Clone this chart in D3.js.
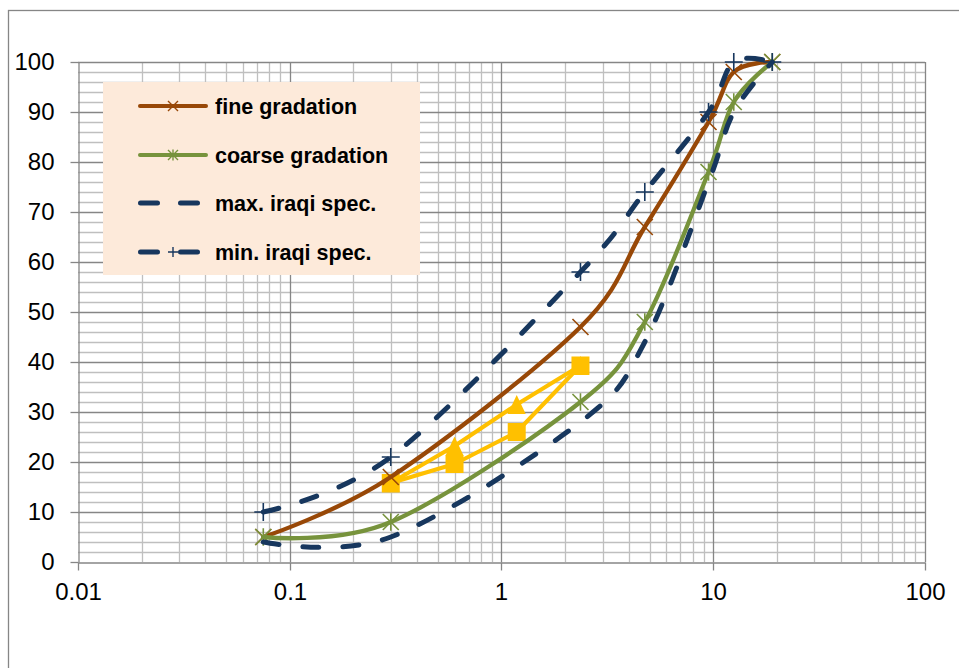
<!DOCTYPE html>
<html><head><meta charset="utf-8">
<script src="https://cdn.jsdelivr.net/npm/d3@7"></script>
<style>html,body{margin:0;padding:0;background:#fff;}svg{display:block;}</style>
</head><body>
<svg id="chart" width="959" height="668"></svg>
<script>
// ---- data ----
const sieves = [0.075, 0.3, 2.36, 4.75, 9.5, 12.5, 19];
const fineGradation   = [5, 17, 47, 67, 88, 98, 100];
const coarseGradation = [5, 8, 32, 48, 78, 92, 100];
const maxIraqiSpec    = [4, 5, 28, 44, 76, 90, 100];
const minIraqiSpec    = [10, 21, 58, 74, 90, 100, 100];
const mixSieves = [0.3, 0.6, 1.18, 2.36];
const mixSquares   = [15.8, 19.6, 26, 39.3];
const mixTriangles = [15.8, 23.2, 31.5, 39.3];
const xTicks = [0.01, 0.1, 1, 10, 100];
const xTickLabels = ["0.01", "0.1", "1", "10", "100"];
const yTicks = [0, 10, 20, 30, 40, 50, 60, 70, 80, 90, 100];
const legendLabels = ["fine gradation", "coarse gradation", "max. iraqi spec.", "min. iraqi spec."];

// ---- styles ----
const C = { fine: "#984807", coarse: "#77933C", spec: "#17375E", mix: "#FFC000",
  gridMajor: "#868686", gridMinor: "#BFBFBF", legendFill: "#FDEADA" };
const FONT = "'Liberation Sans', Arial, sans-serif";

const svg = d3.select("#chart");
svg.append("rect").attr("width", 959).attr("height", 668).attr("fill", "#fff");
svg.append("rect").attr("x", 8.5).attr("y", 10.5).attr("width", 1000).attr("height", 700)
  .attr("fill", "none").attr("stroke", C.gridMajor).attr("stroke-width", 1.3);

const x = d3.scaleLog().domain([0.01, 100]).range([78, 925]);
const y = d3.scaleLinear().domain([0, 100]).range([562, 62]);
const px = v => Math.round(v) + 0.5;

// grid
const g = svg.append("g");
const minorX = [], majorX = [];
[0.01, 0.1, 1, 10].forEach(d => { for (let k = 2; k <= 9; k++) minorX.push(d * k); majorX.push(d * 10); });
const minorY = d3.range(0, 101, 2).filter(v => v % 10 !== 0);
const majorY = yTicks.filter(v => v > 0);
g.selectAll(".vmin").data(minorX).join("line")
  .attr("x1", d => px(x(d))).attr("x2", d => px(x(d))).attr("y1", y(100)).attr("y2", y(0))
  .attr("stroke", C.gridMinor).attr("stroke-width", 1.3);
g.selectAll(".hmin").data(minorY).join("line")
  .attr("y1", d => px(y(d))).attr("y2", d => px(y(d))).attr("x1", x(0.01)).attr("x2", x(100))
  .attr("stroke", C.gridMinor).attr("stroke-width", 1.3);
g.selectAll(".vmaj").data(majorX).join("line")
  .attr("x1", d => px(x(d))).attr("x2", d => px(x(d))).attr("y1", y(100)).attr("y2", y(0))
  .attr("stroke", C.gridMajor).attr("stroke-width", 1.3);
g.selectAll(".hmaj").data(majorY).join("line")
  .attr("y1", d => px(y(d))).attr("y2", d => px(y(d))).attr("x1", x(0.01)).attr("x2", x(100))
  .attr("stroke", C.gridMajor).attr("stroke-width", 1.3);

// axes
const yAxis = d3.axisLeft(y).tickValues(yTicks).tickSize(8).tickSizeOuter(0).tickPadding(16).tickFormat(d3.format("d"));
const xAxis = d3.axisBottom(x).tickValues(xTicks).tickSize(8).tickSizeOuter(0).tickPadding(12)
  .tickFormat((d, i) => xTickLabels[i]);
const ya = svg.append("g").attr("transform", `translate(${px(x(0.01))},0)`).call(yAxis);
const xa = svg.append("g").attr("transform", `translate(0,${px(y(0))})`).call(xAxis);
[ya, xa].forEach(a => {
  a.select(".domain").attr("stroke", C.gridMajor).attr("stroke-width", 1.3);
  a.selectAll(".tick line").attr("stroke", C.gridMajor).attr("stroke-width", 1.3);
  a.selectAll(".tick text").attr("font-family", FONT).attr("font-size", 24).attr("fill", "#000");
});
ya.selectAll(".tick").attr("transform", d => `translate(0,${px(y(d))})`);
xa.selectAll(".tick").attr("transform", d => `translate(${px(x(d))},0)`);

// markers
function markX(sel, cx, cy, r, color, w) {
  sel.append("path").attr("d", `M${cx-r},${cy-r}L${cx+r},${cy+r}M${cx-r},${cy+r}L${cx+r},${cy-r}`)
    .attr("stroke", color).attr("stroke-width", w).attr("fill", "none");
}
function markStar(sel, cx, cy, r, color, w) {
  sel.append("path").attr("d", `M${cx-r},${cy-r}L${cx+r},${cy+r}M${cx-r},${cy+r}L${cx+r},${cy-r}M${cx},${cy-r*1.1}L${cx},${cy+r*1.1}`)
    .attr("stroke", color).attr("stroke-width", w).attr("fill", "none");
}
function markPlus(sel, cx, cy, r, color, w) {
  sel.append("path").attr("d", `M${cx-r},${cy}L${cx+r},${cy}M${cx},${cy-r}L${cx},${cy+r}`)
    .attr("stroke", color).attr("stroke-width", w).attr("fill", "none");
}

const plot = svg.append("g");
const straight = d3.line().x(d => x(d[0])).y(d => y(d[1]));
const smooth = d3.line().x(d => x(d[0])).y(d => y(d[1])).curve(d3.curveCardinal.tension(0));

// yellow series (drawn first)
const sq = mixSieves.map((s, i) => [s, mixSquares[i]]);
const tr = mixSieves.map((s, i) => [s, mixTriangles[i]]);
plot.append("path").attr("d", straight(tr)).attr("fill", "none").attr("stroke", C.mix).attr("stroke-width", 4).attr("stroke-linejoin", "round");
plot.append("path").attr("d", straight(sq)).attr("fill", "none").attr("stroke", C.mix).attr("stroke-width", 4).attr("stroke-linejoin", "round");
tr.forEach(d => {
  const cx = x(d[0]), cy = y(d[1]), h = 9.5, w = 9;
  plot.append("path").attr("d", `M${cx},${cy-h}L${cx+w},${cy+h}L${cx-w},${cy+h}Z`).attr("fill", C.mix);
});
sq.forEach(d => {
  plot.append("rect").attr("x", x(d[0]) - 9).attr("y", y(d[1]) - 9).attr("width", 18).attr("height", 18).attr("fill", C.mix);
});

// main series
const fine = sieves.map((s, i) => [s, fineGradation[i]]);
const coarse = sieves.map((s, i) => [s, coarseGradation[i]]);
const smax = sieves.map((s, i) => [s, maxIraqiSpec[i]]);
const smin = sieves.map((s, i) => [s, minIraqiSpec[i]]);

plot.append("path").attr("d", smooth(fine)).attr("fill", "none").attr("stroke", C.fine).attr("stroke-width", 4.3).attr("stroke-linecap", "round");
fine.forEach(d => markX(plot, x(d[0]), y(d[1]), 8, C.fine, 1.6));
plot.append("path").attr("d", smooth(coarse)).attr("fill", "none").attr("stroke", C.coarse).attr("stroke-width", 4.3).attr("stroke-linecap", "round");
coarse.forEach(d => markStar(plot, x(d[0]), y(d[1]), 8, C.coarse, 1.6));
plot.append("path").attr("d", smooth(smax)).attr("fill", "none").attr("stroke", C.spec).attr("stroke-width", 5)
  .attr("stroke-linecap", "round").attr("stroke-dasharray", "16 24");
plot.append("path").attr("d", smooth(smin)).attr("fill", "none").attr("stroke", C.spec).attr("stroke-width", 5)
  .attr("stroke-linecap", "round").attr("stroke-dasharray", "16 24");
smin.forEach(d => markPlus(plot, x(d[0]), y(d[1]), 9, C.spec, 1.6));

// legend
const lg = svg.append("g");
lg.append("rect").attr("x", 103).attr("y", 82).attr("width", 317).attr("height", 193).attr("fill", C.legendFill);
const rows = [106, 155, 203, 252];
const styles = [
  { color: C.fine, dash: null, w: 4, mark: markX },
  { color: C.coarse, dash: null, w: 4, mark: markStar },
  { color: C.spec, dash: "17 23", w: 5, mark: null },
  { color: C.spec, dash: "17 23", w: 5, mark: markPlus }
];
legendLabels.forEach((lab, i) => {
  const st = styles[i], cy = rows[i];
  const ln = lg.append("line").attr("x1", st.dash ? 140.5 : 140).attr("x2", st.dash ? 205 : 206).attr("y1", cy).attr("y2", cy)
    .attr("stroke", st.color).attr("stroke-width", st.w).attr("stroke-linecap", "round");
  if (st.dash) ln.attr("stroke-dasharray", st.dash);
  if (st.mark) st.mark(lg, 173, cy, 5, st.color, 1.4);
  lg.append("text").attr("x", 215).attr("y", cy).attr("dy", "0.36em").attr("font-family", FONT)
    .attr("font-weight", "bold").attr("font-size", 21.5).attr("fill", "#000").text(lab);
});
</script>
</body></html>
